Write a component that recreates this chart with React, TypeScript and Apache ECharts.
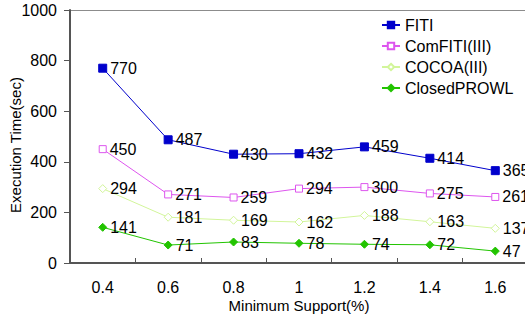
import React, { useEffect, useRef } from "react";
import * as echarts from "echarts";

const supports = ["0.4", "0.6", "0.8", "1", "1.2", "1.4", "1.6"];
const fiti = [770, 487, 430, 432, 459, 414, 365];
const comFiti = [450, 271, 259, 294, 300, 275, 261];
const cocoa = [294, 181, 169, 162, 188, 163, 137];
const closedProwl = [141, 71, 83, 78, 74, 72, 47];

const FONT = "Liberation Sans, Arial, sans-serif";

function makeSeries(
  name: string,
  data: number[],
  color: string,
  symbol: string,
  size: number,
  hollow: boolean
) {
  return {
    name,
    type: "line",
    data,
    symbol,
    symbolSize: size,
    showAllSymbol: true,
    lineStyle: { color, width: 1 },
    itemStyle: hollow
      ? { color: "#ffffff", borderColor: color, borderWidth: 1 }
      : { color, borderColor: color, borderWidth: 1 },
    label: {
      show: true,
      position: "right",
      distance: 3,
      color: "#000",
      fontFamily: FONT,
      fontSize: 16,
    },
  };
}

export default function App() {
  const ref = useRef<HTMLDivElement>(null);

  useEffect(() => {
    if (!ref.current) return;
    const chart = echarts.init(ref.current, undefined, { renderer: "svg" });
    chart.setOption({
      animation: false,
      backgroundColor: "#ffffff",
      textStyle: { fontFamily: FONT },
      grid: {
        left: 70,
        top: 10,
        bottom: 57,
        right: -3,
        outerBoundsMode: "none",
        containLabel: false,
      },
      legend: {
        orient: "vertical",
        left: 381,
        top: 17,
        padding: 0,
        itemGap: 5,
        itemWidth: 18,
        itemHeight: 8,
        textStyle: { fontFamily: FONT, fontSize: 16, color: "#000" },
        data: ["FITI", "ComFITI(III)", "COCOA(III)", "ClosedPROWL"],
      },
      graphic: [
        {
          type: "line",
          shape: { x1: 70, y1: 10.5, x2: 525, y2: 10.5 },
          style: { stroke: "#8c8c8c", lineWidth: 1 },
        },
        {
          // y-axis title, rotated to read bottom-to-top
          type: "text",
          x: 15,
          y: 145,
          rotation: Math.PI / 2,
          style: {
            text: "Execution Time(sec)",
            fontFamily: FONT,
            fontSize: 15,
            fill: "#000",
            align: "center",
            verticalAlign: "middle",
          },
        },
      ],
      xAxis: {
        type: "category",
        data: supports,
        boundaryGap: true,
        name: "Minimum Support(%)",
        nameLocation: "middle",
        nameGap: 35,
        nameMoveOverlap: false,
        nameTextStyle: { fontFamily: FONT, fontSize: 15, color: "#000" },
        axisLine: { lineStyle: { color: "#555", width: 2 } },
        axisTick: {
          show: true,
          inside: true,
          length: 5,
          interval: 0,
          lineStyle: { color: "#555", width: 1 },
        },
        axisLabel: {
          margin: 16,
          fontFamily: FONT,
          fontSize: 16,
          color: "#000",
          interval: 0,
        },
        splitLine: { show: false },
      },
      yAxis: {
        type: "value",
        min: 0,
        max: 1000,
        interval: 200,
        axisLine: { show: true, lineStyle: { color: "#555", width: 2 } },
        axisTick: {
          show: true,
          inside: false,
          length: 6,
          lineStyle: { color: "#555", width: 1 },
        },
        axisLabel: {
          margin: 13,
          fontFamily: FONT,
          fontSize: 16,
          color: "#000",
          formatter: (v: number) => String(v),
        },
        splitLine: { show: false },
      },
      series: [
        makeSeries("FITI", fiti, "#0000cc", "rect", 8, false),
        makeSeries("ComFITI(III)", comFiti, "#dd55ee", "rect", 7, true),
        makeSeries("COCOA(III)", cocoa, "#d2f59a", "diamond", 8, true),
        makeSeries("ClosedPROWL", closedProwl, "#22c400", "diamond", 8, false),
      ],
    });
    return () => chart.dispose();
  }, []);

  return (
    <div
      ref={ref}
      style={{
        position: "fixed",
        left: 0,
        top: 0,
        width: 525,
        height: 320,
        overflow: "hidden",
      }}
    />
  );
}
